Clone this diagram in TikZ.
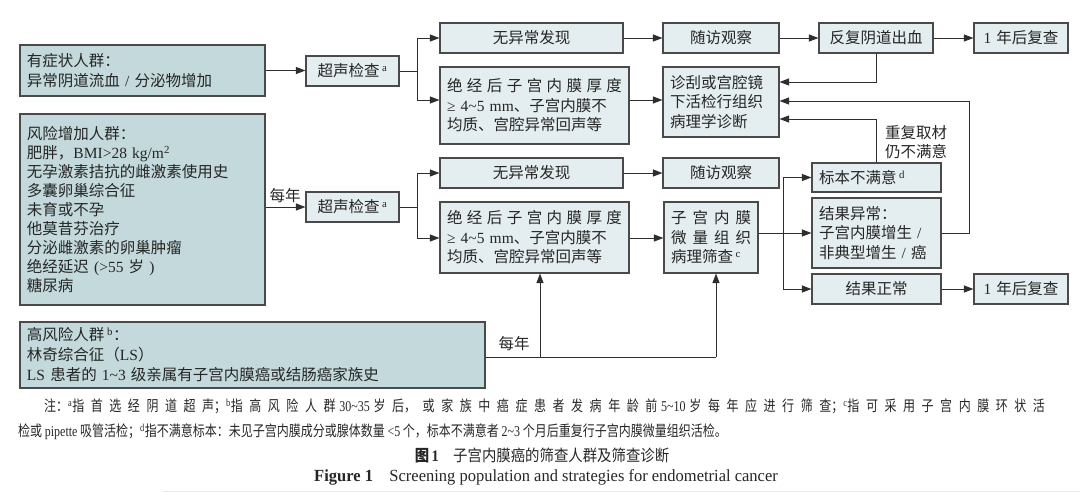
\documentclass[tikz,border=0pt]{standalone}
\usepackage{fontspec}
\setmainfont{Noto Sans CJK SC}
\newfontfamily\latinf{Liberation Serif}
\usetikzlibrary{arrows.meta}
\definecolor{popc}{HTML}{C3D9DB}
\definecolor{procc}{HTML}{E4EDEF}
\definecolor{bordc}{HTML}{4A4A4A}
\definecolor{linec}{HTML}{2E2E2E}
\newcommand\LT[1]{{\latinf #1}}
\newcommand\sps[1]{\textsuperscript{\latinf #1}}
\newcommand\tld{\textasciitilde}
\newcommand\spr[2]{\makebox[#1]{#2}}
\tikzset{
  base/.style={draw=bordc, line width=1.1pt, inner ysep=0pt, inner xsep=7pt,
    font=\fontsize{15.5}{19.5}\selectfont, text=black!85},
  pop/.style={base, fill=popc, align=left},
  proc/.style={base, fill=procc},
  arr/.style={draw=linec, line width=0.9pt, -{Triangle[length=9.5pt,width=7pt]}},
  ln/.style={draw=linec, line width=0.9pt},
  lbl/.style={inner sep=0pt, font=\fontsize{15.5}{19.5}\selectfont, text=black!85},
}
\begin{document}
\begin{tikzpicture}[x=1pt,y=-1pt]
\useasboundingbox (0,0) rectangle (1080,493);
% ---- first row group
\node[pop, text width=231pt, minimum height=51pt] (A1) at (142.5,70.5)
  {有症状人群：\\异常阴道流血 \LT{/} 分泌物增加};
\node[proc, text width=79pt, minimum height=30pt, align=center] (U1) at (352.5,71) {超声检查\,\sps{a}};
\node[proc, text width=169pt, minimum height=30pt, align=center] (N1) at (531.5,38) {无异常发现};
\node[proc, text width=102pt, minimum height=30pt, align=center] (F1) at (721,38) {随访观察};
\node[proc, text width=100pt, minimum height=30pt, align=center] (R1) at (876,38) {反复阴道出血};
\node[proc, text width=80pt, minimum height=30pt, align=center] (Y1) at (1021,38) {\LT{1} 年后复查};
\node[proc, text width=175pt, minimum height=77pt, align=left] (P1) at (534.5,105.5)
  {\spr{175pt}{绝\hfill 经\hfill 后\hfill 子\hfill 宫\hfill 内\hfill 膜\hfill 厚\hfill 度}\\
   \LT{≥ 4\tld5 mm}、子宫内膜不\\均质、宫腔异常回声等};
\node[proc, text width=102pt, minimum height=70pt, align=left] (D) at (721,102)
  {诊刮或宫腔镜\\下活检行组织\\病理学诊断};
% ---- second row group
\node[pop, text width=231pt, minimum height=191pt, font=\fontsize{15.5}{19}\selectfont] (A2) at (142.5,209.5)
  {风险增加人群：\\肥胖，\LT{BMI>28 kg/m\textsuperscript{2}}\\无孕激素拮抗的雌激素使用史\\多囊卵巢综合征\\未育或不孕\\他莫昔芬治疗\\分泌雌激素的卵巢肿瘤\\绝经延迟 \LT{(>55} 岁 \LT{)}\\糖尿病};
\node[proc, text width=79pt, minimum height=30pt, align=center] (U2) at (352.5,207) {超声检查\,\sps{a}};
\node[proc, text width=169pt, minimum height=30pt, align=center] (N2) at (531.5,173) {无异常发现};
\node[proc, text width=102pt, minimum height=30pt, align=center] (F2) at (721,173) {随访观察};
\node[proc, text width=175pt, minimum height=71pt, align=left] (P2) at (534.5,237.5)
  {\spr{175pt}{绝\hfill 经\hfill 后\hfill 子\hfill 宫\hfill 内\hfill 膜\hfill 厚\hfill 度}\\
   \LT{≥ 4\tld5 mm}、子宫内膜不\\均质、宫腔异常回声等};
\node[proc, text width=80pt, minimum height=71pt, align=left] (S) at (711,237.5)
  {\spr{80pt}{子\hfill 宫\hfill 内\hfill 膜}\\\spr{80pt}{微\hfill 量\hfill 组\hfill 织}\\病理筛查\,\sps{c}};
\node[proc, text width=115pt, minimum height=29pt, align=left] (B) at (876.5,177.5) {标本不满意\,\sps{d}};
\node[proc, text width=115pt, minimum height=70pt, align=left] (E) at (876.5,233)
  {结果异常：\\子宫内膜增生 \LT{/}\\非典型增生 \LT{/} 癌};
\node[proc, text width=115pt, minimum height=30pt, align=center] (Nm) at (876.5,289) {结果正常};
\node[proc, text width=80pt, minimum height=30pt, align=center] (Y2) at (1021,289) {\LT{1} 年后复查};
% ---- high risk
\node[pop, text width=451pt, minimum height=66pt, font=\fontsize{15.5}{20}\selectfont] (H) at (252.5,355)
  {高风险人群\,\sps{b}：\\林奇综合征（\LT{LS}）\\\LT{LS} 患者的 \LT{1\tld3} 级亲属有子宫内膜癌或结肠癌家族史};
% ---- labels
\node[lbl] (L1) at (285,196) {每年};
\node[lbl] (L2) at (514,344) {每年};
\node[lbl, align=left] (L3) at (916,142) {重复取材\\仍不满意};
% ---- helper coordinates
\coordinate (y82) at (0,82);
\coordinate (y100) at (0,100);
\coordinate (y101) at (0,101);
\coordinate (y119) at (0,119);
\coordinate (y238) at (0,238);
\coordinate (j1) at (417,71);
\coordinate (j2) at (417,207);
\coordinate (j3) at (783,233);
\coordinate (k1) at (969,233);
\coordinate (h1) at (540,357);
\coordinate (h2) at (716,357);
% ---- connectors, first group
\draw[arr] (A1.east) -- (A1.east -| U1.west);
\draw[ln] (U1.east) -- (j1);
\draw[arr] (j1) |- (N1.west);
\draw[arr] (j1) |- (P1.west |- y100);
\draw[arr] (N1) -- (F1);
\draw[arr] (F1) -- (R1);
\draw[arr] (R1) -- (Y1);
\draw[arr] (P1.east |- y100) -- (D.west |- y100);
\draw[arr] (R1.south) |- (D.east |- y82);
\draw[arr] (E.east) -- (k1) |- (D.east |- y101);
\draw[arr] (B.north) |- (D.east |- y119);
% ---- connectors, second group
\draw[arr] (A2.east |- U2.west) -- (U2.west);
\draw[ln] (U2.east) -- (j2);
\draw[arr] (j2) |- (N2.west);
\draw[arr] (j2) |- (P2.west |- y238);
\draw[arr] (N2) -- (F2);
\draw[arr] (P2.east |- y238) -- (S.west |- y238);
\draw[ln] (S.east |- j3) -- (j3);
\draw[arr] (j3) |- (B.west);
\draw[arr] (j3) -- (E.west);
\draw[arr] (j3) |- (Nm.west);
\draw[arr] (Nm) -- (Y2);
\draw[ln] (H.east |- h1) -- (h2);
\draw[arr] (h1) -- (h1 |- P2.south);
\draw[arr] (h2) -- (h2 |- S.south);
% ---- notes and caption
\node[anchor=north west, inner sep=0pt, font=\fontsize{15}{18}\selectfont, text=black!85] (fn1) at (20,399)
  {\scalebox{0.8}[1]{\parbox{1281pt}{\XeTeXlinebreaklocale "zh"\XeTeXlinebreakskip=0pt plus 10pt\parfillskip=0pt\relax
   \hspace*{30pt}注：\sps{a}指首选经阴道超声；\sps{b}指高风险人群 \LT{30\tld35} 岁后，或家族中癌症患者发病年龄前 \LT{5\tld10} 岁每年应进行筛查；\sps{c}指可采用子宫内膜环状活}}};
\node[anchor=west, inner sep=0pt, font=\fontsize{15}{18}\selectfont, text=black!85] (fn2) at (18,432)
  {\scalebox{0.8}[1]{检或 \LT{pipette} 吸管活检；\sps{d}指不满意标本：未见子宫内膜成分或腺体数量 \LT{<5} 个，标本不满意者 \LT{2\tld3} 个月后重复行子宫内膜微量组织活检。}};
\node[inner sep=0pt, font=\fontsize{16}{19}\selectfont, text=black!85] (cap) at (542,455)
  {\scalebox{0.9}[1]{{\bfseries 图\,\LT{\bfseries 1}}\hspace{1em}子宫内膜癌的筛查人群及筛查诊断}};
\node[inner sep=0pt, font=\fontsize{17}{19}\selectfont, text=black!85] (capen) at (546,477)
  {\scalebox{0.97}[1]{\LT{\textbf{Figure 1}\hspace{1em}Screening population and strategies for endometrial cancer}}};
\draw[black!8, line width=1pt] (163,491) -- (1080,491);
\end{tikzpicture}
\end{document}
